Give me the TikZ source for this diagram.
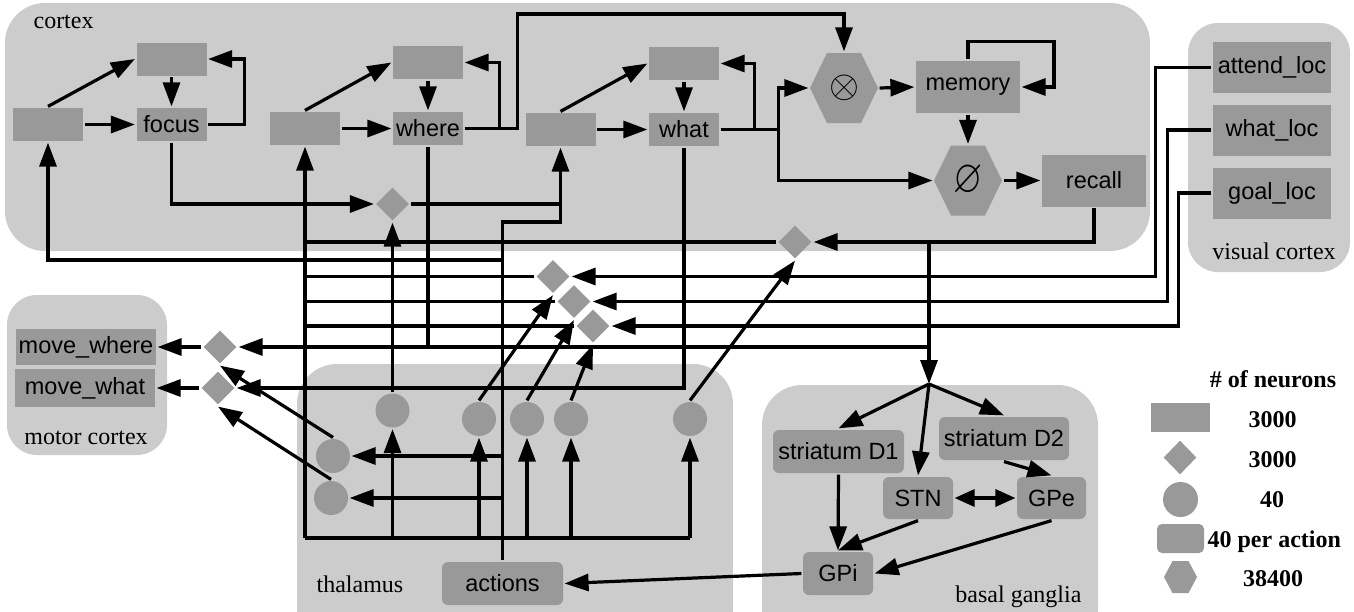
\documentclass[tikz,border=0pt]{standalone}
\usepackage{amsmath, amssymb}
\usepackage{graphicx}
\usepackage{fontspec}
\setmainfont{Liberation Serif}
\setsansfont{Liberation Sans}
\usetikzlibrary{shapes.geometric, arrows.meta}
\definecolor{fondo}{HTML}{CCCCCC}
\definecolor{neurona}{HTML}{999999}

\begin{document}
\begin{tikzpicture}[x=1pt, y=-1pt, line width=3.2pt,
	region/.style={fill=fondo, rounded corners=40pt},
	etiqueta/.style={inner sep=0pt, font=\rmfamily\fontsize{24}{28}\selectfont},
	caja/.style={rectangle, fill=neurona, inner sep=0pt, minimum width=70pt, minimum height=33pt, font=\sffamily\fontsize{23.5}{28}\selectfont},
	accion/.style={caja, rounded corners=6pt},
	rombo/.style={diamond, fill=neurona, inner sep=0pt, minimum width=34pt, minimum height=34pt},
	circulo/.style={circle, fill=neurona, inner sep=0pt, minimum size=34pt},
	hexa/.style={rectangle, fill=fondo, inner sep=0pt, minimum width=68pt, minimum height=70pt, font=\fontsize{23.5}{28}\selectfont,
		path picture={\fill[neurona] (path picture bounding box.west) -- ([xshift=17pt]path picture bounding box.north west) -- ([xshift=-17pt]path picture bounding box.north east) -- (path picture bounding box.east) -- ([xshift=-17pt]path picture bounding box.south east) -- ([xshift=17pt]path picture bounding box.south west) -- cycle;}},
	leyenda/.style={inner sep=0pt, font=\rmfamily\bfseries\fontsize{24}{28}\selectfont, anchor=base},
	flecha/.style={-{Triangle[length=24pt,width=17pt]}},
	doble/.style={{Triangle[length=20pt,width=17pt]}-{Triangle[length=20pt,width=17pt]}}]
	\useasboundingbox (0,0) rectangle (1354,611);

	% Regiones
	\fill[region] (5,3) rectangle (1150,251);
	\fill[region, rounded corners=30pt] (1188,23) rectangle (1350,272);
	\fill[region, rounded corners=30pt] (7,295) rectangle (167,455);
	\fill[region] (297,364) rectangle (733,650);
	\fill[region] (762,385) rectangle (1098,650);
	\node at (32,28) [anchor=base west, etiqueta] (lcortex) {cortex};
	\node at (1274,259) [anchor=base, etiqueta] (lvisual) {visual cortex};
	\node at (86,444) [anchor=base, etiqueta] (lmotor) {motor cortex};
	\node at (315,592) [anchor=base west, etiqueta] (ltalamo) {thalamus};
	\node at (1083,602) [anchor=base east, etiqueta] (lganglios) {basal ganglia};

	% Nodos de la corteza
	\node at (48,124.5) [caja] (ent1) {};
	\node at (171.5,59) [caja] (foctop) {};
	\node at (171.5,124.5) [caja] (focus) {focus};
	\node at (305,128.5) [caja] (ent2) {};
	\node at (428,62.5) [caja] (wtop) {};
	\node at (428,128.5) [caja] (where) {where};
	\node at (560.5,129.5) [caja] (ent3) {};
	\node at (684,63.5) [caja] (whtop) {};
	\node at (684,129.5) [caja] (what) {what};
	\node at (844,88) [hexa] (prod) {\scalebox{1.55}{$\otimes$}};
	\node at (968,87) [caja, minimum width=104pt, minimum height=52pt] (memory) {memory};
	\node at (968,180.5) [hexa] (div) {\scalebox{1.6}[2]{$\varnothing$}};
	\node at (1094,180.5) [caja, minimum width=104pt, minimum height=52pt] (recall) {recall};

	% Corteza visual y motora
	\node at (1272,67.5) [caja, minimum width=118pt, minimum height=51pt] (attend) {attend\_loc};
	\node at (1272,130) [caja, minimum width=118pt, minimum height=51pt] (wloc) {what\_loc};
	\node at (1272,193) [caja, minimum width=118pt, minimum height=51pt] (gloc) {goal\_loc};
	\node at (86,347) [caja, minimum width=140pt, minimum height=36pt] (mwhere) {move\_where};
	\node at (85,388) [caja, minimum width=140pt, minimum height=38pt] (mwhat) {move\_what};

	% Compuertas
	\node at (392.5,204) [rombo] (g1) {};
	\node at (795,242) [rombo] (grec) {};
	\node at (553,276.5) [rombo] (ga) {};
	\node at (574,301.5) [rombo] (gb) {};
	\node at (593,326) [rombo] (gc) {};
	\node at (220,347) [rombo] (gmw) {};
	\node at (218,388) [rombo] (gmwh) {};

	% Talamo
	\node at (392.5,410.5) [circulo] (t1) {};
	\node at (479,419) [circulo] (ta) {};
	\node at (527,419) [circulo] (tb) {};
	\node at (571,419) [circulo] (tc) {};
	\node at (690,419) [circulo] (td) {};
	\node at (333,456) [circulo] (tm1) {};
	\node at (331,498) [circulo] (tm2) {};
	\node at (502.5,583.5) [accion, minimum width=121pt, minimum height=43pt] (actions) {actions};

	% Ganglios basales
	\coordinate (split) at (929,384);
	\node at (838.5,451.5) [accion, minimum width=131pt, minimum height=43pt] (estr1) {striatum D1};
	\node at (1004,438.5) [accion, minimum width=130pt, minimum height=43pt] (estr2) {striatum D2};
	\node at (918,498) [accion, minimum height=42pt] (stn) {STN};
	\node at (1051.5,498) [accion, minimum width=69pt, minimum height=42pt] (gpe) {GPe};
	\node at (838,573.5) [accion, minimum height=43pt] (gpi) {GPi};

	% Niveles de las lineas
	\coordinate (nA) at (0,222);
	\coordinate (nL) at (0,260);
	\coordinate (nB) at (0,538);

	% Focus
	\draw[flecha] (ent1.east) -- (focus.west);
	\draw[flecha] (ent1.north) -- (foctop.west);
	\draw[flecha] (foctop.south) -- (focus.north);
	\draw[flecha] (focus.east) -- ++(36,0) |- (foctop.east);
	\draw[flecha] (focus.south) |- (g1.west);
	\draw (g1.east) -- (ent3.south |- g1.east);

	% Where
	\draw[flecha] (ent2.east) -- (where.west);
	\draw[flecha] (ent2.north) -- (wtop.west);
	\draw[flecha] (wtop.south) -- (where.north);
	\draw[flecha] (where.east) -- ++(35,0) |- (wtop.east);
	\draw[flecha] (where.east) -- ++(53,0) -- ++(0,-114.5) -| (prod.north);
	\draw[flecha] (where.south) |- (gmw.east);
	\draw (where.south |- gmw.east) -- (split |- gmw.east);

	% What
	\draw[flecha] (ent3.east) -- (what.west);
	\draw[flecha] (ent3.north) -- (whtop.west);
	\draw[flecha] (whtop.south) -- (what.north);
	\draw[flecha] (what.east) -- ++(34,0) |- (whtop.east);
	\draw[flecha] (what.east) -- ++(58,0) |- (prod.west);
	\draw[flecha] (what.east) -- ++(58,0) |- (div.west);
	\draw[flecha] (what.south) |- (gmwh.east);

	% Memoria
	\draw[flecha] (prod.east) -- (memory.west);
	\draw[flecha] (memory.north) -- ++(0,-18) -- ++(86,0) |- (memory.east);
	\draw[flecha] (memory.south) -- (div.north);
	\draw[flecha] (div.east) -- (recall.west);
	\draw[flecha] (recall.south) |- (grec.east);
	\draw[flecha] (split |- grec.east) -- (split);

	% Entradas visuales
	\draw[flecha] (attend.west) -- ++(-56,0) |- (ga.east);
	\draw[flecha] (wloc.west) -- ++(-44,0) |- (gb.east);
	\draw[flecha] (gloc.west) -- ++(-33,0) |- (gc.east);

	% Salidas de las compuertas
	\draw (ga.west) -- (ent2.south |- ga.west);
	\draw (gb.west) -- (ent2.south |- gb.west);
	\draw (gc.west) -- (ent2.south |- gc.west);
	\draw (grec.west) -- (ent2.south |- grec.west);
	\draw[flecha] (ent2.south |- nB) -- (ent2.south);
	\draw[flecha] (gmw.west) -- (mwhere.east);
	\draw[flecha] (gmwh.west) -- (mwhat.east);

	% Acciones hacia el talamo
	\draw[flecha] (actions.north) -- (actions.north |- nA) -| (ent3.south);
	\draw[flecha] (actions.north |- nL) -| (ent1.south);
	\draw[flecha] (actions.north |- tm1) -- (tm1.east);
	\draw[flecha] (actions.north |- tm2) -- (tm2.east);
	\draw (ent2.south |- nB) -- (td |- nB);
	\foreach \t in {t1,ta,tb,tc,td}
		\draw[flecha] (\t |- nB) -- (\t.south);

	% Talamo hacia las compuertas
	\draw[flecha] (t1.north) -- (g1.south);
	\draw[flecha] (ta.north) -- (ga.south);
	\draw[flecha] (tb.north) -- (gb.south);
	\draw[flecha] (tc.north) -- (gc.south);
	\draw[flecha] (td.north) -- (grec.south);
	\draw[flecha] (tm1.north) -- (gmw.south);
	\draw[flecha] (tm2.north) -- (gmwh.south);

	% Ganglios basales
	\draw[flecha] (split) -- (estr1.north);
	\draw[flecha] (split) -- (stn.north);
	\draw[flecha] (split) -- (estr2.north);
	\draw[flecha] (estr2.south) -- (gpe.north);
	\draw[doble] (stn.east) -- (gpe.west);
	\draw[flecha] (estr1.south) -- (gpi.north);
	\draw[flecha] (stn.south) -- (gpi.north);
	\draw[flecha] (gpe.south) -- (gpi.east);
	\draw[flecha] (gpi.west) -- (actions.east);

	% Leyenda
	\node at (1273,387) [leyenda] (titulo) {\# of neurons};
	\node at (1180.5,417.5) [caja, minimum width=59pt, minimum height=29pt] (ley1) {};
	\node at (1180,457.5) [rombo, minimum height=35pt] (ley2) {};
	\node at (1180.5,499.5) [circulo, minimum size=35pt] (ley3) {};
	\node at (1180.5,538.5) [accion, minimum width=47pt, minimum height=29pt, rounded corners=5pt] (ley4) {};
	\node at (1180.5,577) [hexa, fill=white, minimum width=33pt, minimum height=32pt,
		path picture={\fill[neurona] (path picture bounding box.west) -- ([xshift=8.5pt]path picture bounding box.north west) -- ([xshift=-8.5pt]path picture bounding box.north east) -- (path picture bounding box.east) -- ([xshift=-8.5pt]path picture bounding box.south east) -- ([xshift=8.5pt]path picture bounding box.south west) -- cycle;}] (ley5) {};
	\node at (1272.5,427) [leyenda] (n1) {3000};
	\node at (1272.5,467) [leyenda] (n2) {3000};
	\node at (1272,507) [leyenda] (n3) {40};
	\node at (1206,547) [leyenda, anchor=base west] (n4) {40 per action};
	\node at (1273,586) [leyenda] (n5) {38400};
\end{tikzpicture}
\end{document}
